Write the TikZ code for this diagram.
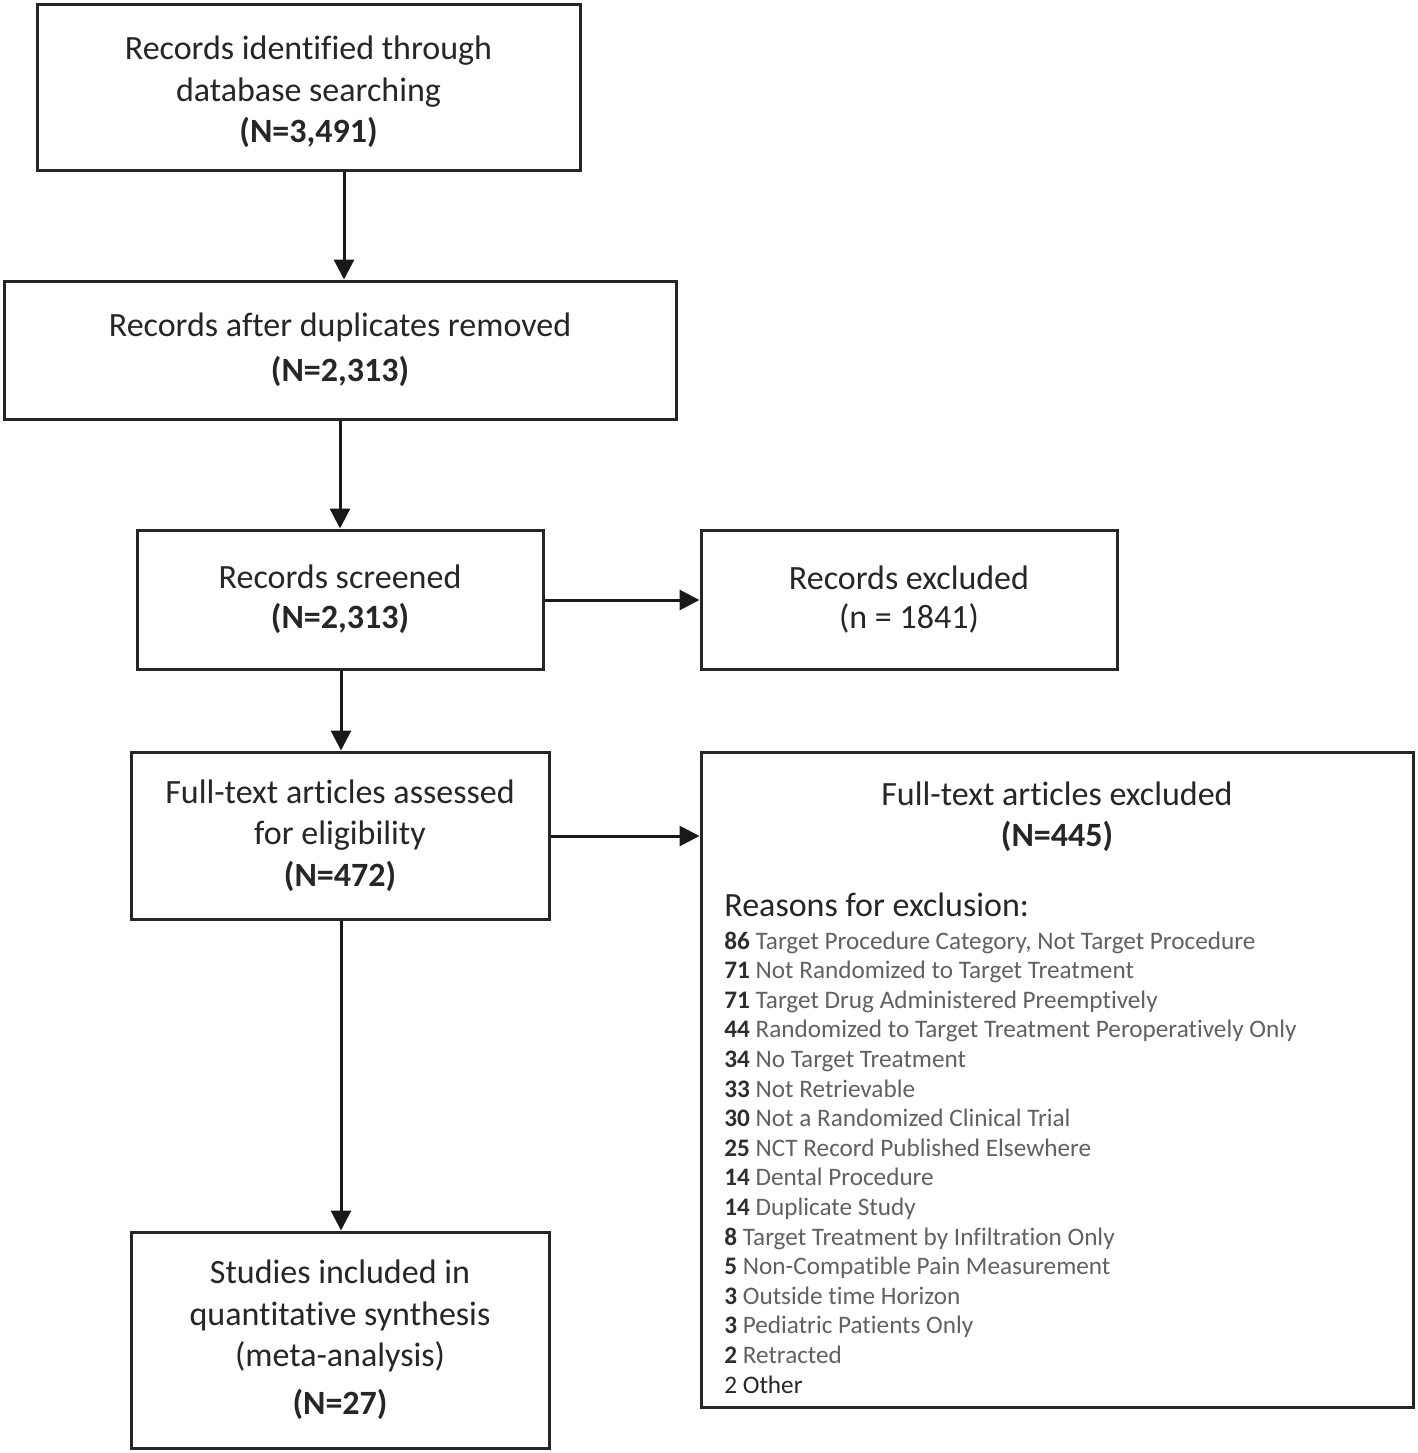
\documentclass[tikz,border=0pt]{standalone}
\usepackage{fontspec}
\setmainfont{Carlito}[Ligatures=CommonOff]
\usetikzlibrary{arrows.meta}
\begin{document}
\begin{tikzpicture}[x=0.5pt,y=-0.5pt,
  box/.style={draw=black!85,line width=1.5pt,align=center,inner sep=0pt,
    font=\fontsize{17pt}{20.75pt}\selectfont,text=black!85},
  arr/.style={line width=1.5pt,draw=black!90,-{Triangle[length=10pt,width=10pt]}},
  reason/.style={anchor=base west,inner sep=0pt,font=\fontsize{12.6pt}{14pt}\selectfont,text=black!62}]
\useasboundingbox[fill=white] (0,0) rectangle (1418,1453);
\node[box,minimum width=271.5pt,minimum height=83pt] (b1) at (308.5,87)
  {\rule{0pt}{17pt}Records identified through\\database searching\\\textbf{(N=3,491)}};
\node[box,minimum width=336pt,minimum height=69pt] (b2) at (340,350)
  {Records after duplicates removed\\[2pt]\textbf{(N=2,313)}};
\node[box,minimum width=203pt,minimum height=69.5pt] (b3) at (340,599.5)
  {Records screened\\[-1pt]\textbf{(N=2,313)}};
\node[box,minimum width=208pt,minimum height=69.5pt] (e1) at (909,599.5)
  {Records excluded\\[-1pt](n = 1841)};
\node[box,minimum width=209pt,minimum height=83.5pt] (b4) at (340,835.5)
  {Full-text articles assessed\\for eligibility\\\textbf{(N=472)}};
\node[box,minimum width=209pt,minimum height=108pt] (b5) at (340,1340)
  {Studies included in\\quantitative synthesis\\(meta-analysis)\\[3pt]\textbf{(N=27)}};
\node[box,minimum width=356pt,minimum height=327.5pt] (e2) at (1057,1079.5) {};
\node[box,draw=none,anchor=center] (e2t) at (1057,817)
  {Full-text articles excluded\\[-0.5pt]\textbf{(N=445)}};
\node[anchor=base west,inner sep=0pt,font=\fontsize{17pt}{20pt}\selectfont,text=black!85] (rh) at (724,916) {Reasons for exclusion:};
\foreach \n/\t [count=\i] in {
  {86}/{Target Procedure Category, Not Target Procedure},
  {71}/{Not Randomized to Target Treatment},
  {71}/{Target Drug Administered Preemptively},
  {44}/{Randomized to Target Treatment Peroperatively Only},
  {34}/{No Target Treatment},
  {33}/{Not Retrievable},
  {30}/{Not a Randomized Clinical Trial},
  {25}/{NCT Record Published Elsewhere},
  {14}/{Dental Procedure},
  {14}/{Duplicate Study},
  {8}/{Target Treatment by Infiltration Only},
  {5}/{Non-Compatible Pain Measurement},
  {3}/{Outside time Horizon},
  {3}/{Pediatric Patients Only},
  {2}/{Retracted}}
  \node[reason] (r\i) at (724,{949+29.6*(\i-1)}) {\textcolor{black!82}{\textbf{\n}} \t};
\node[reason,text=black!85] (r16) at (724,{949+29.6*15}) {2 Other};
\coordinate (c1) at (344,0);
\coordinate (c2) at (340,0);
\coordinate (c3) at (341,0);
\coordinate (y1) at (0,600);
\coordinate (y2) at (0,836);
\draw[arr] (b1.south -| c1) -- (b2.north -| c1);
\draw[arr] (b2.south -| c2) -- (b3.north -| c2);
\draw[arr] (b3.east |- y1) -- (e1.west |- y1);
\draw[arr] (b3.south -| c3) -- (b4.north -| c3);
\draw[arr] (b4.east |- y2) -- (e2.west |- y2);
\draw[arr] (b4.south -| c3) -- (b5.north -| c3);
\end{tikzpicture}
\end{document}
